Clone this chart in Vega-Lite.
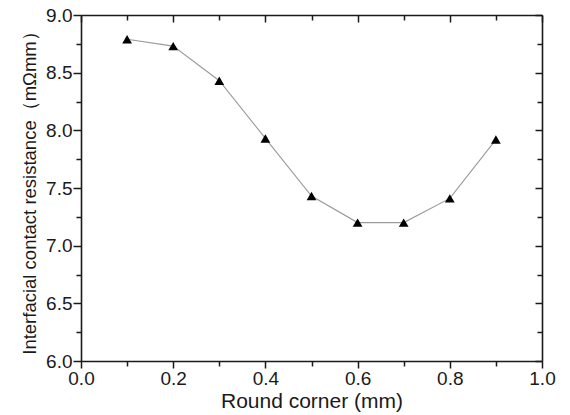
{
  "$schema": "https://vega.github.io/schema/vega-lite/v6.json",
  "width": 461,
  "height": 346,
  "autosize": {"type": "none"},
  "padding": {"left": 81, "top": 15, "right": 28, "bottom": 54},
  "background": "white",
  "config": {
    "view": {"stroke": null},
    "font": "Liberation Sans",
    "axis": {
      "grid": false,
      "domainColor": "#1a1a1a",
      "domainWidth": 1.6,
      "tickColor": "#1a1a1a",
      "tickWidth": 1.5,
      "labelFont": "Liberation Sans",
      "titleFont": "Liberation Sans",
      "labelFontSize": 19,
      "titleFontSize": 18.5,
      "labelColor": "#1a1a1a",
      "titleColor": "#1a1a1a",
      "titleFontWeight": "normal"
    }
  },
  "data": {
    "values": [
      {"x": 0.1, "y": 8.79},
      {"x": 0.2, "y": 8.73},
      {"x": 0.3, "y": 8.43},
      {"x": 0.4, "y": 7.93},
      {"x": 0.5, "y": 7.43},
      {"x": 0.6, "y": 7.2},
      {"x": 0.7, "y": 7.2},
      {"x": 0.8, "y": 7.41},
      {"x": 0.9, "y": 7.92}
    ]
  },
  "layer": [
    {
      "mark": {"type": "line", "color": "#9a9a9a", "strokeWidth": 1.1},
      "encoding": {
        "x": {
          "field": "x", "type": "quantitative",
          "scale": {"domain": [0, 1], "nice": false, "zero": false},
          "axis": {
            "orient": "bottom",
            "title": "Round corner (mm)",
            "titleFontSize": 21,
            "values": [0, 0.1, 0.2, 0.3, 0.4, 0.5, 0.6, 0.7, 0.8, 0.9, 1.0],
            "labelExpr": "round(datum.value*10) % 2 == 0 ? format(datum.value, '.1f') : ''",
            "tickSize": {"condition": {"test": "round(datum.value*10) % 2 == 0", "value": 7}, "value": 5},
            "labelPadding": 1,
            "labelFlush": false,
            "titlePadding": 2
          }
        },
        "y": {
          "field": "y", "type": "quantitative",
          "scale": {"domain": [6, 9], "nice": false, "zero": false},
          "axis": {
            "orient": "left",
            "title": "Interfacial contact resistance（mΩmm）",
            "values": [6, 6.25, 6.5, 6.75, 7, 7.25, 7.5, 7.75, 8, 8.25, 8.5, 8.75, 9],
            "labelExpr": "round(datum.value*4) % 2 == 0 ? format(datum.value, '.1f') : ''",
            "tickSize": {"condition": {"test": "round(datum.value*4) % 2 == 0", "value": 8}, "value": 5},
            "labelPadding": 1,
            "labelFlush": false,
            "titlePadding": 6
          }
        }
      }
    },
    {
      "mark": {"type": "point", "shape": "triangle-up", "filled": true, "color": "black", "opacity": 1, "size": 95},
      "encoding": {
        "x": {
          "field": "x", "type": "quantitative",
          "axis": {
            "orient": "top",
            "title": null,
            "labels": false,
            "values": [0, 0.1, 0.2, 0.3, 0.4, 0.5, 0.6, 0.7, 0.8, 0.9, 1.0],
            "tickSize": {"condition": {"test": "round(datum.value*10) % 2 == 0", "value": -7}, "value": -5}
          }
        },
        "y": {
          "field": "y", "type": "quantitative",
          "axis": {
            "orient": "right",
            "title": null,
            "labels": false,
            "values": [6, 6.25, 6.5, 6.75, 7, 7.25, 7.5, 7.75, 8, 8.25, 8.5, 8.75, 9],
            "tickSize": {"condition": {"test": "round(datum.value*4) % 2 == 0", "value": -7}, "value": -5}
          }
        }
      }
    }
  ],
  "resolve": {"axis": {"x": "independent", "y": "independent"}}
}
